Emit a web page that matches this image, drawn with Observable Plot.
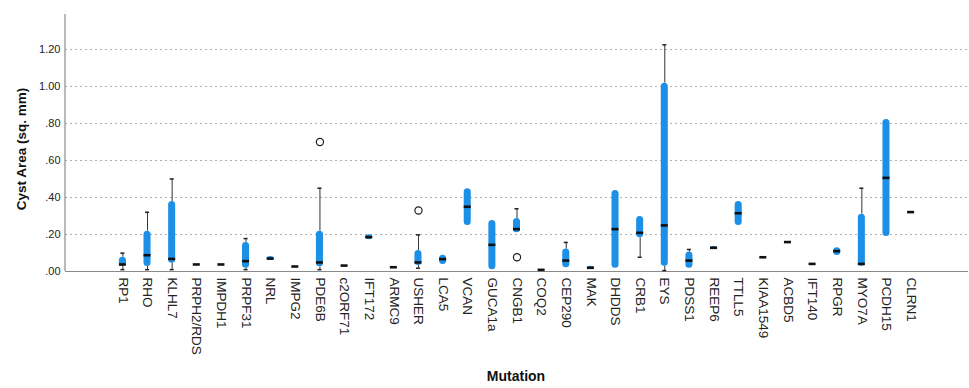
<!DOCTYPE html>
<html>
<head>
<meta charset="utf-8">
<script src="https://cdn.jsdelivr.net/npm/d3@7"></script>
<script src="https://cdn.jsdelivr.net/npm/@observablehq/plot@0.6"></script>
<style>
  html, body { margin: 0; padding: 0; background: #fff; }
  #chart { width: 969px; height: 388px; }
  svg { font-family: "Liberation Sans", Arial, sans-serif; }
</style>
</head>
<body>
<div id="chart"></div>
<script>
const categories = ["RP1","RHO","KLHL7","PRPH2/RDS","IMPDH1","PRPF31","NRL","IMPG2","PDE6B","c2ORF71",
  "IFT172","ARMC9","USHER","LCA5","VCAN","GUCA1a","CNGB1","COQ2","CEP290","MAK",
  "DHDDS","CRB1","EYS","PDSS1","REEP6","TTLL5","KIAA1549","ACBD5","IFT140","RPGR",
  "MYO7A","PCDH15","CLRN1"];
const q1 =      [0.027,0.027,0.045,0.038,0.038,0.018,0.059,0.027,0.025,0.032,
                 0.171,0.023,0.032,0.038,0.249,0.009,0.209,0.009,0.020,0.011,
                 0.018,0.182,0.029,0.018,0.119,0.249,0.077,0.159,0.041,0.086,
                 0.029,0.189,0.321];
const median =  [0.038,0.088,0.068,0.038,0.038,0.056,0.070,0.027,0.049,0.032,
                 0.186,0.023,0.049,0.067,0.350,0.144,0.229,0.009,0.059,0.020,
                 0.229,0.209,0.249,0.059,0.128,0.315,0.077,0.159,0.041,0.110,
                 0.041,0.506,0.321];
const q3 =      [0.077,0.218,0.378,0.038,0.038,0.157,0.081,0.027,0.218,0.032,
                 0.198,0.023,0.114,0.088,0.447,0.276,0.286,0.009,0.121,0.029,
                 0.438,0.297,1.018,0.105,0.135,0.378,0.077,0.159,0.041,0.128,
                 0.310,0.822,0.321];
const whiskerLow =  [0.010,0.010,0.010,null,null,0.010,null,null,0.010,null,
                     null,null,0.018,null,null,null,null,null,null,null,
                     null,0.077,0.005,null,null,null,null,null,null,null,
                     null,null,null];
const whiskerHigh = [0.099,0.320,0.500,null,null,0.178,null,null,0.450,null,
                     null,null,0.198,null,null,null,0.339,null,0.157,null,
                     null,null,1.225,0.119,null,null,null,null,null,null,
                     0.450,null,null];
const outlierMutation = ["PDE6B","USHER","CNGB1"];
const outlierValue = [0.70, 0.33, 0.077];
const yTicks = [0, 0.2, 0.4, 0.6, 0.8, 1.0, 1.2];
const yTickLabels = [".00", ".20", ".40", ".60", ".80", "1.00", "1.20"];

const rows = categories.map((m, i) => ({
  m, q1: q1[i], med: median[i], q3: q3[i], lo: whiskerLow[i], hi: whiskerHigh[i]
}));
const boxes = rows.filter(d => d.q3 > d.q1);
const lowW = rows.filter(d => d.lo != null);
const highW = rows.filter(d => d.hi != null);
const outliers = outlierMutation.map((m, i) => ({m, v: outlierValue[i]}));

const blue = "#1c8fe6";
const axisGray = "#8a8a8a";
const marginLeft = 65;

const plot = Plot.plot({
  width: 969,
  height: 388,
  marginLeft,
  marginRight: 1,
  marginTop: 14,
  marginBottom: 117,
  style: {fontFamily: "'Liberation Sans', Arial, sans-serif", background: "#fff"},
  x: {type: "band", domain: categories, paddingInner: 0, paddingOuter: 1.83, align: 0.5, round: false, axis: null},
  y: {domain: [0, 1.389], axis: null},
  marks: [
    // dotted grid
    Plot.ruleY(yTicks.slice(1), {stroke: "#b0b0b0", strokeDasharray: "2,3", strokeWidth: 1}),
    // x axis line
    Plot.ruleY([0], {stroke: axisGray, strokeWidth: 1.2}),
    // y tick labels
    Plot.text(yTicks, {x: null, y: d => d, frameAnchor: "left", dx: -5, textAnchor: "end",
      text: (d, i) => yTickLabels[i], fontSize: 11, fill: "#222"}),
    // x tick labels (rotated)
    Plot.text(categories, {x: d => d, frameAnchor: "bottom", y: null, dy: 6, rotate: 90,
      textAnchor: "start", text: d => d, fontSize: 13.5, fill: "#222", lineAnchor: "middle"}),
    // whiskers
    Plot.ruleX(lowW, {x: "m", y1: "lo", y2: "q1", stroke: "#333", strokeWidth: 1}),
    Plot.ruleX(highW, {x: "m", y1: "q3", y2: "hi", stroke: "#333", strokeWidth: 1}),
    Plot.tickY(lowW, {x: "m", y: "lo", stroke: "#222", strokeWidth: 1.5, insetLeft: 10.3, insetRight: 10.3}),
    Plot.tickY(highW, {x: "m", y: "hi", stroke: "#222", strokeWidth: 1.5, insetLeft: 10.3, insetRight: 10.3}),
    // boxes
    Plot.rectY(boxes, {x: "m", y1: "q1", y2: "q3", fill: blue, insetLeft: 8.8, insetRight: 8.8, rx: 3.5}),
    // medians
    Plot.tickY(rows, {x: "m", y: "med", stroke: "#111", strokeWidth: 2.6, insetLeft: 8.8, insetRight: 8.8}),
    // outliers
    Plot.dot(outliers, {x: "m", y: "v", r: 3.6, stroke: "#222", fill: "#fff", strokeWidth: 1.2}),
    // y axis title
    Plot.text(["Cyst Area (sq. mm)"], {frameAnchor: "left", dx: -44, dy: 6, rotate: -90, fontSize: 13.5,
      textAnchor: "middle", fontWeight: "bold", fill: "#111", text: d => d, x: null, y: null}),
  ]
});
document.getElementById("chart").appendChild(plot);

// y axis line along the left edge of the frame, using the y scale's range
const svg = d3.select(plot);
const yr = plot.scale("y").range;
svg.append("line")
  .attr("x1", marginLeft).attr("x2", marginLeft)
  .attr("y1", Math.max(...yr)).attr("y2", Math.min(...yr))
  .attr("stroke", axisGray).attr("stroke-width", 1.2);

// x-axis title
svg.append("text")
  .attr("x", 516).attr("y", 381)
  .attr("text-anchor", "middle")
  .attr("font-size", 14).attr("font-weight", "bold").attr("fill", "#111")
  .text("Mutation");
</script>
</body>
</html>
